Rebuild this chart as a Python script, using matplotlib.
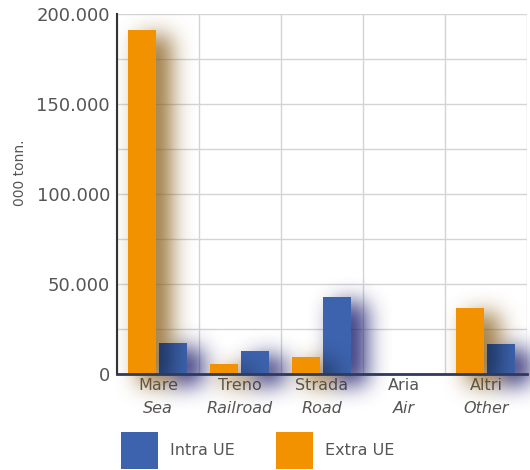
import matplotlib
matplotlib.use("Agg")
import numpy as np
import matplotlib.pyplot as plt
from matplotlib.patches import Patch
from matplotlib.ticker import MultipleLocator, FuncFormatter

plt.rcParams['font.family'] = ['DejaVu Sans']

categories_it = ["Mare", "Treno", "Strada", "Aria", "Altri"]
categories_en = ["Sea", "Railroad", "Road", "Air", "Other"]
extra_ue = [191000, 5500, 9600, 0, 36800]
intra_ue = [17300, 13000, 42700, 0, 16700]

ORANGE = "#f39200"
BLUE = "#3d63ae"
TEXT = "#555555"
W, H = 530, 470

fig = plt.figure(figsize=(W / 100, H / 100), dpi=100)
ax = fig.add_axes([117 / W, 1 - 374 / H, 410 / W, 360 / H])
ax.set_xlim(-0.5, 4.5)
ax.set_ylim(0, 200000)

bw = 0.34
x_extra = np.arange(len(categories_it)) - 0.2
x_intra = np.arange(len(categories_it)) + 0.18
bars_intra = ax.bar(x_intra, intra_ue, width=bw, color=BLUE, zorder=3)
bars_extra = ax.bar(x_extra, extra_ue, width=bw, color=ORANGE, zorder=6)


def blur(a, sigma):
    r = int(3 * sigma)
    k = np.exp(-0.5 * (np.arange(-r, r + 1) / sigma) ** 2)
    k /= k.sum()
    a = np.apply_along_axis(lambda v: np.convolve(v, k, mode="same"), 0, a)
    a = np.apply_along_axis(lambda v: np.convolve(v, k, mode="same"), 1, a)
    return a


def shadow_mask(xs, vals, dx=13, dy=8, sigma=10):
    # rasterise the bars (in pixels, origin top-left), shift and blur
    m = np.zeros((H, W))
    for x, v in zip(xs, vals):
        if v <= 0:
            continue
        (l, b), (r, t) = ax.transData.transform([(x - bw / 2, 0), (x + bw / 2, v)])
        c0, c1 = int(round(l + dx)), int(round(r + dx))
        r0, r1 = int(round(H - t + dy)), int(round(H - b + dy))
        m[max(r0, 0):min(r1, H), max(c0, 0):min(c1, W)] = 1
    return blur(m, sigma) ** 0.75


def show_layer(mask, color, alpha, z, clip=None):
    img = np.zeros((H, W, 4))
    img[..., :3] = matplotlib.colors.to_rgb(color)
    img[..., 3] = np.clip(mask * alpha, 0, 1)
    # figure extent expressed in axes coordinates
    inv = ax.transAxes.inverted()
    (x0, y0), (x1, y1) = inv.transform([(0, 0), (W, H)])
    im = ax.imshow(img, extent=(x0, x1, y0, y1), transform=ax.transAxes,
                   aspect="auto", zorder=z, clip_on=False, interpolation="bilinear")
    if clip is not None:
        im.set_clip_on(True)
        im.set_clip_path(clip)
    return im


m_intra = shadow_mask(x_intra, intra_ue)
m_extra = shadow_mask(x_extra, extra_ue)
show_layer(m_intra, "#1e1e70", 0.9, 2)
show_layer(m_extra, "#845812", 0.8, 2.5)
# the orange drop shadow darkens the blue bars it falls on
for bar in bars_intra:
    show_layer(m_extra, "#0a1428", 0.6, 4, clip=bar)

ax.set_xlim(-0.5, 4.5)
ax.set_ylim(0, 200000)

ax.set_axisbelow(True)
ax.yaxis.set_major_locator(MultipleLocator(50000))
ax.yaxis.set_minor_locator(MultipleLocator(25000))
ax.yaxis.set_major_formatter(FuncFormatter(lambda v, p: f"{int(v):,}".replace(",", ".")))
ax.grid(axis="y", which="both", color="#d4d4d4", linewidth=1)

ax.set_xticks(range(len(categories_it)))
ax.set_xticklabels(categories_it)
ax.xaxis.set_minor_locator(MultipleLocator(1, offset=0.5))
ax.grid(axis="x", which="minor", color="#d4d4d4", linewidth=1)
ax.tick_params(axis="both", which="both", length=0)
ax.tick_params(axis="x", labelsize=11.5, colors=TEXT, pad=3)
ax.tick_params(axis="y", labelsize=13, colors=TEXT, pad=5)

for i, lab in enumerate(categories_en):
    ax.annotate(lab, xy=(i, 0), xycoords=("data", "axes fraction"),
                xytext=(0, -25), textcoords="offset points",
                ha="center", va="center", fontsize=11.5, style="italic",
                color=TEXT, zorder=1)

for s in ["top", "right"]:
    ax.spines[s].set_visible(False)
ax.spines["left"].set_color("#333333")
ax.spines["left"].set_linewidth(1.5)
ax.spines["bottom"].set_color("#2e3a5c")
ax.spines["bottom"].set_linewidth(2)
ax.spines["left"].set_zorder(7)
ax.spines["bottom"].set_zorder(7)

ax.set_ylabel("000 tonn.", fontsize=10, color=TEXT, va="center")
ax.yaxis.set_label_coords(-0.237, 0.56)

handles = [Patch(facecolor=BLUE, edgecolor="none"),
           Patch(facecolor=ORANGE, edgecolor="none")]
fig.legend(handles, ["Intra UE", "Extra UE"], loc="upper left",
           bbox_to_anchor=(121 / W, 1 - 432 / H), ncol=2, frameon=False,
           borderpad=0, borderaxespad=0,
           fontsize=11.5, handlelength=2.3, handleheight=3.2, handletextpad=0.75,
           columnspacing=2.6, labelcolor=TEXT)

fig.savefig("out.png", dpi=100)
